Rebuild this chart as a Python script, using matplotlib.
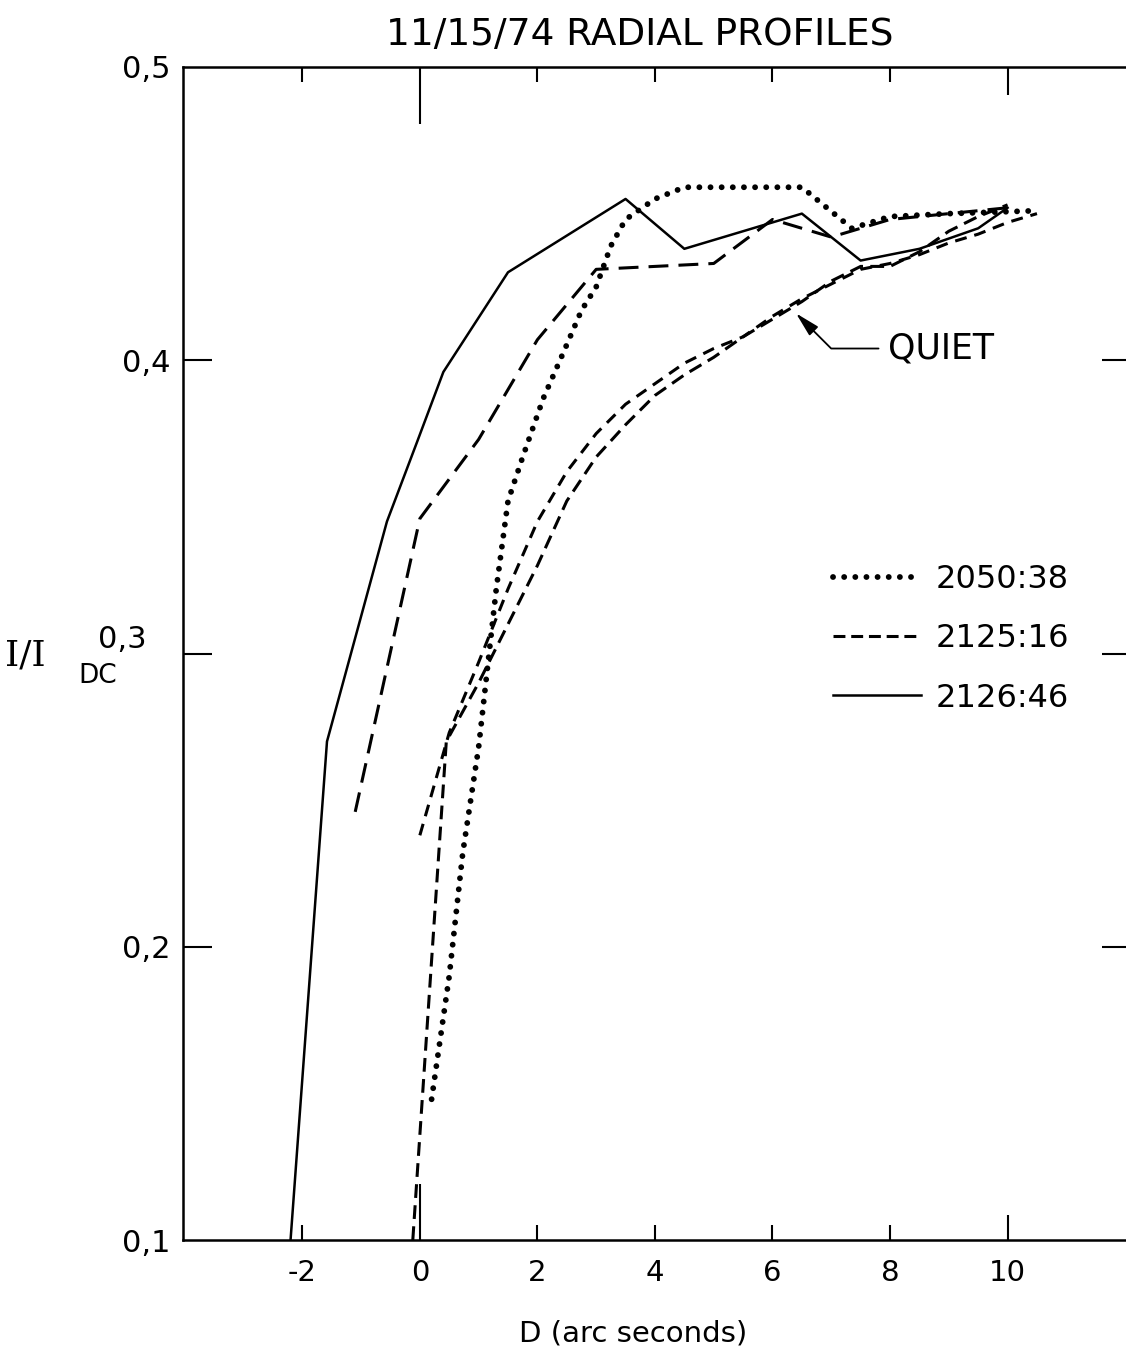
import matplotlib
matplotlib.use("Agg")
import matplotlib.pyplot as plt
from matplotlib.lines import Line2D

plt.rcParams['font.family'] = ['DejaVu Sans']
plt.rcParams['axes.unicode_minus'] = False

# ---- data ----
# 2050:38 (dotted)
x_2050 = [0.2, 0.5, 0.73, 1.0, 1.3, 1.5, 1.75, 2.1, 2.45, 2.75, 3.0, 3.25, 3.5, 4.0, 4.5, 6.5, 7.35, 8.0, 9.0, 10.5]
y_2050 = [0.148, 0.19, 0.232, 0.268, 0.322, 0.352, 0.367, 0.387, 0.403, 0.417, 0.425, 0.439, 0.448, 0.455, 0.459, 0.459, 0.445, 0.449, 0.450, 0.451]

# 2125:16 (dashed)
x_2125 = [-1.1, 0.0, 1.0, 2.0, 3.0, 4.0, 5.0, 6.0, 7.0, 7.5, 8.0, 9.0, 10.0]
y_2125 = [0.246, 0.346, 0.373, 0.407, 0.431, 0.432, 0.433, 0.448, 0.442, 0.445, 0.448, 0.450, 0.452]

# 2126:46 (solid)
x_2126 = [-2.2, -1.58, -0.56, -0.05, 0.4, 1.5, 3.5, 4.5, 6.5, 7.5, 8.5, 9.5, 10.0]
y_2126 = [0.1, 0.27, 0.345, 0.372, 0.396, 0.43, 0.455, 0.438, 0.450, 0.434, 0.438, 0.445, 0.452]

# quiet profiles (dashed)
x_quiet1 = [0.0, 0.5, 1.0, 1.5, 2.0, 2.5, 3.0, 3.5, 4.0, 4.5, 5.0, 5.5, 6.0, 6.5, 7.0, 7.5, 8.0, 8.5, 9.0, 9.5, 10.0, 10.5]
y_quiet1 = [0.238, 0.273, 0.297, 0.322, 0.345, 0.362, 0.375, 0.385, 0.392, 0.399, 0.404, 0.408, 0.415, 0.421, 0.426, 0.431, 0.433, 0.436, 0.440, 0.443, 0.447, 0.450]
x_quiet2 = [-0.12, 0.45, 1.0, 1.5, 2.0, 2.5, 3.0, 3.5, 4.0, 4.5, 5.0, 5.5, 6.0, 6.5, 7.0, 7.5, 8.0, 8.5, 9.0, 9.5, 10.0]
y_quiet2 = [0.1, 0.27, 0.29, 0.31, 0.33, 0.352, 0.367, 0.378, 0.388, 0.395, 0.401, 0.408, 0.414, 0.420, 0.427, 0.432, 0.432, 0.437, 0.444, 0.449, 0.453]

x_ticks = [-2, 0, 2, 4, 6, 8, 10]
x_ticklabels = ['-2', '0', '2', '4', '6', '8', '10']
y_ticks = [0.1, 0.2, 0.3, 0.4, 0.5]
y_ticklabels = ['0,1', '0,2', '', '0,4', '0,5']

W, H = 1126, 1356
fig = plt.figure(figsize=(W / 100, H / 100), dpi=100)
ax = fig.add_axes([183 / W, 116 / H, 948 / W, 1173 / H])

ax.plot(x_2126, y_2126, color='black', lw=1.8, ls='-', label='2126:46')
ax.plot(x_2125, y_2125, color='black', lw=2.2, ls=(0, (6.5, 3.3)), label='2125:16')
ax.plot(x_quiet1, y_quiet1, color='black', lw=2.2, ls=(0, (3.9, 2.6)))
ax.plot(x_quiet2, y_quiet2, color='black', lw=2.2, ls=(0, (4.5, 2.4)))
ax.plot(x_2050, y_2050, color='black', lw=4.2, ls=(0, (0.01, 1.9)),
        dash_capstyle='round', label='2050:38')

ax.set_xlim(-4.03, 12.1)
ax.set_ylim(0.1, 0.5)

for s in ax.spines.values():
    s.set_linewidth(1.8)

ax.set_xticks(x_ticks, x_ticklabels)
ax.set_yticks(y_ticks, y_ticklabels)
ax.tick_params(axis='both', direction='in', width=1.5)
ax.tick_params(axis='x', top=True, bottom=True, length=11, pad=14, labelsize=21)
ax.tick_params(axis='y', left=True, right=True, length=21, pad=9, labelsize=22)

# special tick lengths (0 and 10 are drawn longer)
for val, tick in zip(x_ticks, ax.xaxis.get_major_ticks()):
    if val == 0:
        tick.tick1line.set_markersize(40)
        tick.tick2line.set_markersize(41)
    elif val == 10:
        tick.tick1line.set_markersize(18)
        tick.tick2line.set_markersize(20)

# no tick marks in the corners
for val, tick in zip(y_ticks, ax.yaxis.get_major_ticks()):
    if val in (0.1, 0.5):
        tick.tick1line.set_visible(False)
        tick.tick2line.set_visible(False)

# the 0,3 label sits up and to the left, next to I/I_DC
ax.annotate('0,3', xy=(0, 0.3), xycoords=('axes fraction', 'data'),
            xytext=(-36, 14), textcoords='offset pixels',
            ha='right', va='center', fontsize=22)

ax.text(0.482, 1.019, '11/15/74 RADIAL PROFILES', transform=ax.transAxes,
        ha='center', va='baseline', fontsize=27)
ax.set_xlabel('D (arc seconds)', fontsize=21)
ax.xaxis.set_label_coords(0.475, -0.068)
ax.xaxis.label.set_va('top')

fig.text(5 / W, 1 - 655 / H, 'I/I', family='DejaVu Serif', fontsize=26,
         ha='left', va='center')
fig.text(78 / W, 1 - 676 / H, 'DC', fontsize=19, ha='left', va='center')

# QUIET callout
ax.annotate('QUIET', xy=(6.4, 0.416), xytext=(7.97, 0.404),
            fontsize=25, ha='left', va='center',
            arrowprops=dict(arrowstyle='-|>,head_length=0.6,head_width=0.15',
                            color='black', lw=1.3, shrinkA=5, shrinkB=0,
                            connectionstyle='angle,angleA=0,angleB=135,rad=0'))

handles = [
    Line2D([], [], color='black', lw=4.2, ls=(0, (0.01, 1.9)), dash_capstyle='round'),
    Line2D([], [], color='black', lw=2.2, ls=(0, (3.9, 1.9))),
    Line2D([], [], color='black', lw=1.8, ls='-'),
]
ax.legend(handles, ['2050:38', '2125:16', '2126:46'], loc='upper left',
          bbox_to_anchor=(0.686, 0.576), frameon=False, fontsize=23,
          handlelength=2.73, handletextpad=0.47, labelspacing=0.88,
          borderpad=0, borderaxespad=0)

fig.savefig('out.png', dpi=100, facecolor='white')
